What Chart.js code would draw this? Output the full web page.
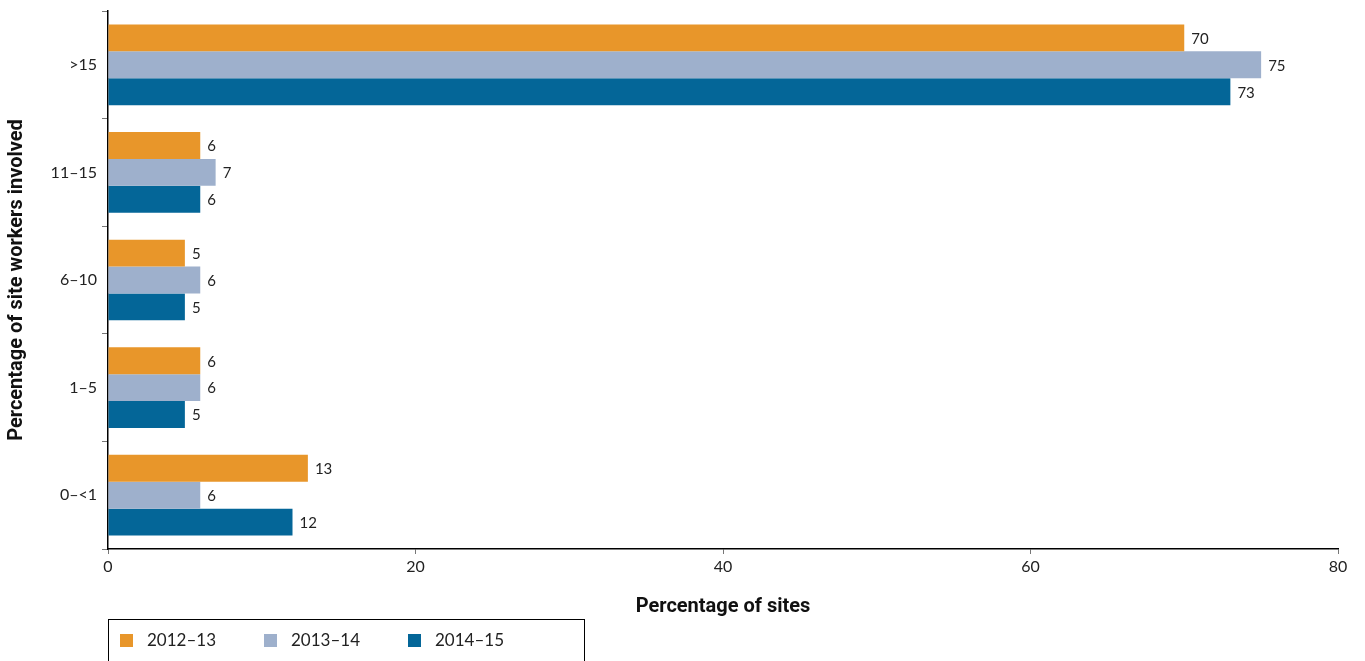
<!DOCTYPE html>
<html>
<head>
<meta charset="utf-8">
<script src="https://cdn.jsdelivr.net/npm/chart.js@4/dist/chart.umd.min.js"></script>
<style>
  html, body { margin: 0; padding: 0; background: #fff; }
  #wrap { width: 1365px; height: 661px; position: relative; }
</style>
</head>
<body>
<div id="wrap"><canvas id="grafico"></canvas></div>
<script>
// categorias (de cima para baixo) e valores por ano
const categorias = ['>15', '11–15', '6–10', '1–5', '0–<1'];
const anos = ['2012–13', '2013–14', '2014–15'];
const valores2012 = [70, 6, 5, 6, 13];
const valores2013 = [75, 7, 6, 6, 6];
const valores2014 = [73, 6, 5, 5, 12];
const cores = ['#E8962A', '#9EB0CC', '#046698'];

const fonteTexto = "Lato, 'Noto Sans', sans-serif";
const fonteTitulo = "'Liberation Sans Narrow', 'Roboto', sans-serif";

// rótulos de valor no fim de cada barra
const rotulosValores = {
    id: 'rotulosValores',
    afterDatasetsDraw(chart) {
        const ctx = chart.ctx;
        ctx.save();
        ctx.font = '15px ' + fonteTexto;
        ctx.fillStyle = '#222';
        ctx.textAlign = 'left';
        ctx.textBaseline = 'middle';
        chart.data.datasets.forEach((ds, i) => {
            const meta = chart.getDatasetMeta(i);
            meta.data.forEach((barra, j) => {
                ctx.fillText(String(ds.data[j]), barra.x + 7, barra.y + 1);
            });
        });
        ctx.restore();
    }
};

// legenda com moldura, abaixo do eixo x
const legendaCaixa = {
    id: 'legendaCaixa',
    afterDraw(chart) {
        const ctx = chart.ctx;
        const left = chart.chartArea.left;
        const top = 619;
        ctx.save();
        ctx.strokeStyle = '#000';
        ctx.lineWidth = 1;
        ctx.strokeRect(left + 0.5, top + 0.5, 476, 80);
        ctx.font = '17px ' + fonteTexto;
        ctx.textBaseline = 'middle';
        ctx.fillStyle = '#222';
        const posicoes = [120, 264, 408];
        chart.data.datasets.forEach((ds, i) => {
            const x = posicoes[i];
            ctx.fillStyle = ds.backgroundColor;
            ctx.fillRect(x, 634, 13, 13);
            ctx.fillStyle = '#222';
            ctx.fillText(ds.label, x + 27, 641);
        });
        ctx.restore();
    }
};

const ctxGrafico = document.getElementById('grafico').getContext('2d');
new Chart(ctxGrafico, {
    type: 'bar',
    data: {
        labels: categorias,
        datasets: [
            { label: anos[0], data: valores2012, backgroundColor: cores[0] },
            { label: anos[1], data: valores2013, backgroundColor: cores[1] },
            { label: anos[2], data: valores2014, backgroundColor: cores[2] }
        ]
    },
    options: {
        indexAxis: 'y',
        responsive: true,
        maintainAspectRatio: false,
        animation: false,
        datasets: {
            bar: { categoryPercentage: 0.75, barPercentage: 1, borderWidth: 0 }
        },
        layout: { padding: { left: 0, top: 11, right: 27, bottom: 42 } },
        plugins: {
            legend: { display: false },
            tooltip: { enabled: false }
        },
        scales: {
            x: {
                min: 0,
                max: 80,
                ticks: {
                    stepSize: 20,
                    color: '#222',
                    padding: 3,
                    font: { family: fonteTexto, size: 16 }
                },
                grid: { drawOnChartArea: false, tickLength: 5, color: '#777' },
                border: { color: '#000', width: 1.5 },
                title: {
                    display: true,
                    text: 'Percentage of sites',
                    color: '#111',
                    font: { family: fonteTitulo, size: 20, weight: 'bold' },
                    padding: { top: 0, bottom: 0 }
                },
                afterFit: s => { s.height = 70; }
            },
            y: {
                ticks: {
                    color: '#222',
                    padding: 5,
                    font: { family: fonteTexto, size: 16 }
                },
                grid: { drawOnChartArea: false, tickLength: 6, color: '#777', offset: true },
                border: { color: '#000', width: 1.5 },
                title: {
                    display: true,
                    text: 'Percentage of site workers involved',
                    color: '#111',
                    font: { family: fonteTitulo, size: 20, weight: 'bold' },
                    padding: { top: 5, bottom: 0 }
                },
                afterFit: s => {
                    s.width = 108;
                    s.paddingTop = 0;
                    s.paddingBottom = 0;
                }
            }
        }
    },
    plugins: [rotulosValores, legendaCaixa]
});
</script>
</body>
</html>
